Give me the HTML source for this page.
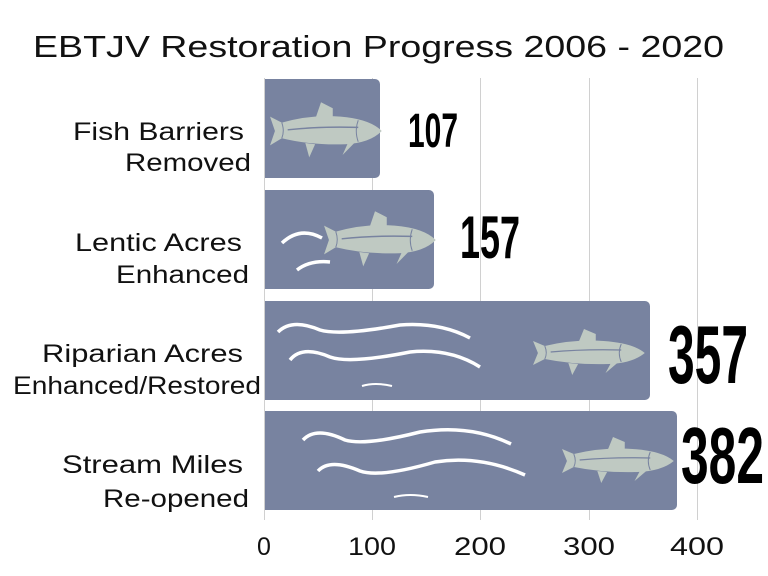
<!DOCTYPE html>
<html><head><meta charset="utf-8"><style>
html,body{margin:0;padding:0;background:#fff;}
svg{display:block;}
</style></head><body>
<svg width="768" height="576" xmlns="http://www.w3.org/2000/svg" font-family="'Liberation Sans', 'DejaVu Sans', sans-serif">
<defs>
<g id="fish">
  <path d="M-52,-12 L-40,-7 Q-10,-14 20,-12 Q50,-10 62,0 Q50,10 25,11 Q-10,12 -40,6 L-52,12 L-47,0 Z" fill="#bfc9c2"/>
  <path d="M-5,-12 L0,-24 L12,-19 L12,-12 Z" fill="#bfc9c2"/>
  <path d="M-16,10 L-12,22 L-6,11 Z" fill="#bfc9c2"/>
  <path d="M28,9 L22,20 L34,10 Z" fill="#bfc9c2"/>
  <path d="M-34,-1 Q0,-4 38,-3" stroke="#7883a0" stroke-width="1.2" fill="none"/>
  <path d="M38,-9 Q34,0 38,9" stroke="#7883a0" stroke-width="1" fill="none"/>
  <path d="M-40,-7 Q-37,0 -40,6" stroke="#7883a0" stroke-width="1" fill="none"/>
</g>
</defs>
<text x="33" y="57" font-size="31" fill="#111" textLength="691" lengthAdjust="spacingAndGlyphs">EBTJV Restoration Progress 2006 - 2020</text>
<g stroke="#d0d0d0" stroke-width="1">
<line x1="372.5" y1="78" x2="372.5" y2="520"/>
<line x1="480.5" y1="78" x2="480.5" y2="520"/>
<line x1="589.5" y1="78" x2="589.5" y2="520"/>
<line x1="697.5" y1="78" x2="697.5" y2="520"/>
</g>
<g fill="#7883a0">
<path d="M264,79 H375 a5,5 0 0 1 5,5 V173 a5,5 0 0 1 -5,5 H264 Z"/>
<path d="M264,190 H429 a5,5 0 0 1 5,5 V284 a5,5 0 0 1 -5,5 H264 Z"/>
<path d="M264,301 H645 a5,5 0 0 1 5,5 V395 a5,5 0 0 1 -5,5 H264 Z"/>
<path d="M264,411 H672 a5,5 0 0 1 5,5 V505 a5,5 0 0 1 -5,5 H264 Z"/>
</g>
<line x1="264.5" y1="78" x2="264.5" y2="520" stroke="#d0d0d0"/>
<use href="#fish" transform="translate(321,131) scale(0.98,1.2)"/>
<use href="#fish" transform="translate(375,240) scale(0.98,1.2)"/>
<use href="#fish" transform="translate(584,353) scale(0.98,1.0)"/>
<use href="#fish" transform="translate(613,461) scale(0.98,1.0)"/>
<g stroke="#fff" stroke-width="3.5" fill="none" stroke-linecap="butt">
<path d="M282,243 Q300,226 322,238"/>
<path d="M297,270 Q310,260 330,262"/>
<path d="M278,332 Q292,318 320,330 Q340,336 400,325 Q440,322 470,338"/>
<path d="M290,360 Q302,345 330,357 Q350,364 410,352 Q450,348 480,367"/>
<path d="M362,386 Q375,382 392,386" stroke-width="2"/>
<path d="M303,440 Q316,426 345,440 Q365,446 420,432 Q470,424 511,444"/>
<path d="M318,471 Q330,458 360,471 Q380,478 435,462 Q480,455 525,475"/>
<path d="M394,497 Q410,493 428,497" stroke-width="2"/>
</g>
<g font-size="25" fill="#111">
<text x="73" y="140" textLength="171" lengthAdjust="spacingAndGlyphs">Fish Barriers</text>
<text x="125" y="171" textLength="126" lengthAdjust="spacingAndGlyphs">Removed</text>
<text x="75" y="251" textLength="167" lengthAdjust="spacingAndGlyphs">Lentic Acres</text>
<text x="116" y="283" textLength="133" lengthAdjust="spacingAndGlyphs">Enhanced</text>
<text x="42" y="362" textLength="201" lengthAdjust="spacingAndGlyphs">Riparian Acres</text>
<text x="13" y="394" textLength="248" lengthAdjust="spacingAndGlyphs">Enhanced/Restored</text>
<text x="62" y="473" textLength="181" lengthAdjust="spacingAndGlyphs">Stream Miles</text>
<text x="103" y="507" textLength="146" lengthAdjust="spacingAndGlyphs">Re-opened</text>
</g>
<g font-family="'Liberation Sans Narrow','Liberation Sans',sans-serif" font-weight="bold" fill="#000">
<text x="408" y="147" font-size="48" textLength="50" lengthAdjust="spacingAndGlyphs">107</text>
<text x="460" y="258" font-size="60" textLength="60" lengthAdjust="spacingAndGlyphs">157</text>
<text x="668" y="383" font-size="83" textLength="80" lengthAdjust="spacingAndGlyphs">357</text>
<text x="681" y="483" font-size="80" textLength="83" lengthAdjust="spacingAndGlyphs">382</text>
</g>
<g font-size="25" fill="#111" text-anchor="middle">
<text x="264" y="555">0</text>
<text x="372" y="555" textLength="48" lengthAdjust="spacingAndGlyphs">100</text>
<text x="480" y="555" textLength="52" lengthAdjust="spacingAndGlyphs">200</text>
<text x="589" y="555" textLength="52" lengthAdjust="spacingAndGlyphs">300</text>
<text x="697" y="555" textLength="54" lengthAdjust="spacingAndGlyphs">400</text>
</g>
</svg>
</body></html>
